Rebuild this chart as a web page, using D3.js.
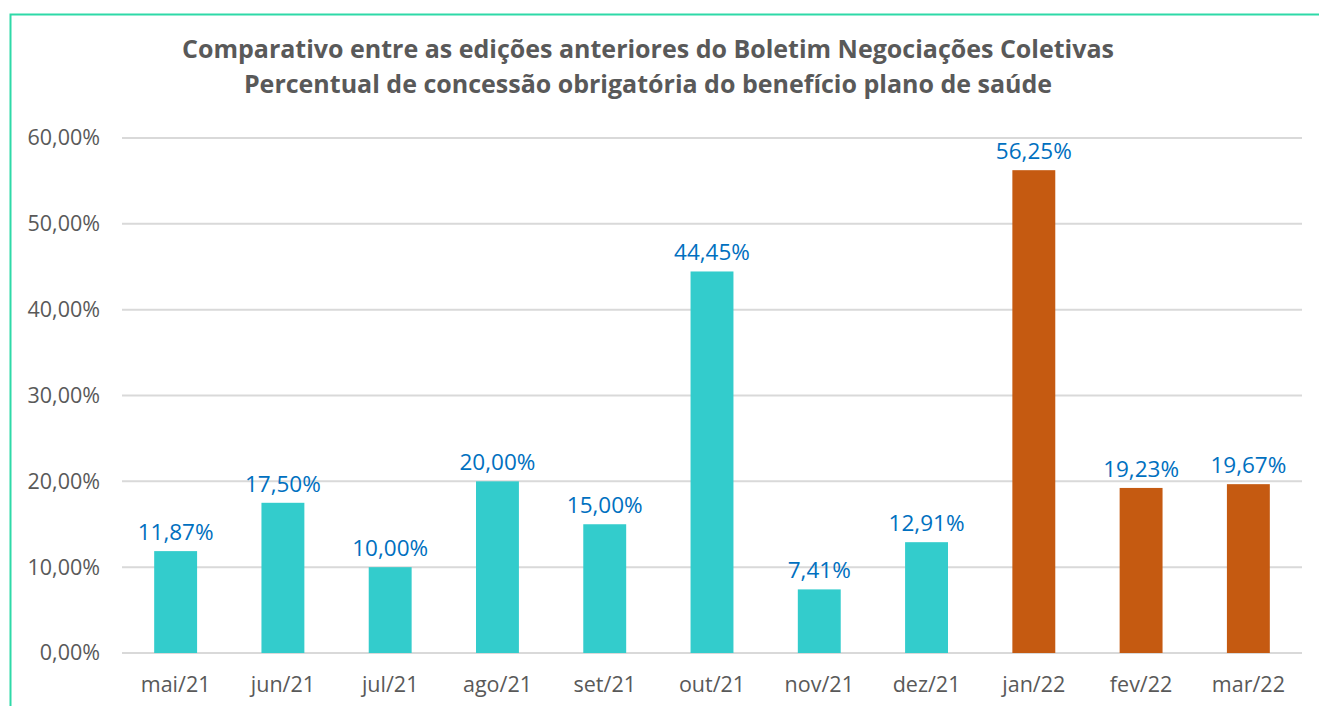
<!DOCTYPE html>
<html>
<head>
<meta charset="utf-8">
<script src="https://cdn.jsdelivr.net/npm/d3@7"></script>
<style>
  body { margin: 0; background: #fff; }
  text { font-family: "Open Sans", "Noto Sans", sans-serif; }
</style>
</head>
<body>
<svg class="canvas" width="1319" height="706"></svg>
<script>
// --- Data ---
var months = ["mai/21", "jun/21", "jul/21", "ago/21", "set/21", "out/21", "nov/21", "dez/21", "jan/22", "fev/22", "mar/22"];
var values = [11.87, 17.50, 10.00, 20.00, 15.00, 44.45, 7.41, 12.91, 56.25, 19.23, 19.67];
var barColors = ["#33CCCC", "#33CCCC", "#33CCCC", "#33CCCC", "#33CCCC", "#33CCCC", "#33CCCC", "#33CCCC", "#C55A11", "#C55A11", "#C55A11"];
var yTicks = [0, 10, 20, 30, 40, 50, 60];
var titleLines = [
  "Comparativo entre as edições anteriores do Boletim Negociações Coletivas",
  "Percentual de concessão obrigatória do benefício plano de saúde"
];

// --- Layout ---
var margin = { left: 122, right: 1302, top: 138, bottom: 653 };
var fmt = function(v) { return v.toFixed(2).replace(".", ",") + "%"; };

var svg = d3.select(".canvas");

// frame
svg.append("rect")
  .attr("x", 10.5).attr("y", 14.5)
  .attr("width", 1330).attr("height", 720)
  .attr("fill", "none")
  .attr("stroke", "#2ED9A8")
  .attr("stroke-width", 2);

var x = d3.scaleBand()
  .domain(months)
  .range([margin.left, margin.right])
  .paddingInner(0.6)
  .paddingOuter(0.3);

var y = d3.scaleLinear()
  .domain([0, 60])
  .range([margin.bottom, margin.top]);

// gridlines
svg.append("g")
  .selectAll("line")
  .data(yTicks)
  .enter()
    .append("line")
    .attr("x1", margin.left).attr("x2", margin.right)
    .attr("y1", function(d) { return y(d); })
    .attr("y2", function(d) { return y(d); })
    .attr("stroke", "#D9D9D9")
    .attr("stroke-width", 2);

// y axis
var yAxis = svg.append("g")
  .attr("transform", "translate(" + (margin.left - 19) + ",0)")
  .call(d3.axisLeft(y).tickValues(yTicks).tickSize(0).tickFormat(fmt));
yAxis.select(".domain").remove();
yAxis.selectAll("text")
  .attr("fill", "#595959")
  .attr("font-size", "21.5px");

// bars
svg.append("g")
  .selectAll("rect")
  .data(values)
  .enter()
    .append("rect")
    .attr("x", function(d, i) { return x(months[i]); })
    .attr("width", x.bandwidth())
    .attr("y", function(d) { return y(d); })
    .attr("height", function(d) { return y(0) - y(d); })
    .attr("fill", function(d, i) { return barColors[i]; });

// x axis
var xAxis = svg.append("g")
  .attr("transform", "translate(0," + (margin.bottom + 21) + ")")
  .call(d3.axisBottom(x).tickSize(0));
xAxis.select(".domain").remove();
xAxis.selectAll("text")
  .attr("fill", "#595959")
  .attr("font-size", "21.5px");

// data labels
svg.append("g")
  .selectAll("text")
  .data(values)
  .enter()
    .append("text")
    .attr("x", function(d, i) { return x(months[i]) + x.bandwidth() / 2; })
    .attr("y", function(d) { return y(d) - 11; })
    .attr("text-anchor", "middle")
    .attr("fill", "#0070C0")
    .attr("font-size", "22.5px")
    .text(fmt);

// title
svg.append("g")
  .selectAll("text")
  .data(titleLines)
  .enter()
    .append("text")
    .attr("x", 648)
    .attr("y", function(d, i) { return 58 + i * 35; })
    .attr("text-anchor", "middle")
    .attr("fill", "#595959")
    .attr("font-weight", "bold")
    .attr("font-size", "25px")
    .text(function(d) { return d; });
</script>
</body>
</html>
